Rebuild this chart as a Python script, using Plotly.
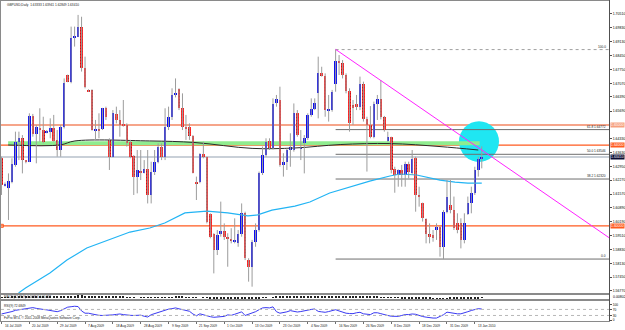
import plotly.graph_objects as go

# ---------------- data ----------------
bars = list(range(139))
open_p = [1.6335,1.6202,1.6186,1.6219,1.6302,1.6417,1.6437,1.6323,1.6318,1.6545,
          1.6455,1.6486,1.6475,1.6464,1.6467,1.6483,1.6426,1.6376,1.6492,1.6748,
          1.6715,1.6935,1.6938,1.6988,1.6781,1.6674,1.6674,1.6475,1.6481,1.6478,
          1.6583,1.6426,1.6343,1.6555,1.6525,1.6503,1.6500,1.6417,1.6348,1.6244,
          1.6269,1.6264,1.6280,1.6153,1.6269,1.6318,1.6393,1.6343,1.6488,1.6541,
          1.6649,1.6677,1.6583,1.6492,1.6488,1.6445,1.6219,1.6216,1.6356,1.6340,
          1.6059,1.5960,1.5880,1.5960,1.5976,1.5946,1.5936,1.5920,1.5913,1.5960,
          1.6062,1.5830,1.5794,1.5921,1.5979,1.6264,1.6351,1.6422,1.6384,1.6611,
          1.6624,1.6302,1.6318,1.6376,1.6376,1.6558,1.6379,1.6409,1.6434,1.6550,
          1.6579,1.6657,1.6756,1.6745,1.6574,1.6574,1.6703,1.6819,1.6809,1.6746,
          1.6669,1.6599,1.6602,1.6588,1.6703,1.6528,1.6500,1.6439,1.6602,1.6627,
          1.6538,1.6422,1.6439,1.6280,1.6252,1.6277,1.6252,1.6307,1.6260,1.6335,
          1.6153,1.6111,1.6032,1.5960,1.5955,1.5979,1.5996,1.5896,1.6070,1.6103,
          1.6078,1.6012,1.6012,1.5930,1.6059,1.6111,1.6161,1.6277,1.63333]
high_p = [1.6343,1.6215,1.6260,1.6335,1.6467,1.6467,1.6450,1.6326,1.6558,1.6555,
          1.6500,1.6583,1.6541,1.6475,1.6533,1.6550,1.6475,1.6500,1.6731,1.6750,
          1.6988,1.6988,1.7046,1.7037,1.6839,1.6677,1.6677,1.6525,1.6558,1.6585,
          1.6591,1.6434,1.6574,1.6591,1.6574,1.6624,1.6508,1.6426,1.6351,1.6376,
          1.6376,1.6326,1.6376,1.6318,1.6376,1.6409,1.6409,1.6583,1.6591,1.6682,
          1.6731,1.6682,1.6657,1.6550,1.6508,1.6450,1.6244,1.6360,1.6417,1.6343,
          1.6062,1.5963,1.5979,1.6120,1.6012,1.5963,1.5988,1.6037,1.5979,1.6111,
          1.6070,1.5839,1.5930,1.6012,1.6269,1.6393,1.6434,1.6434,1.6632,1.6649,
          1.6690,1.6360,1.6384,1.6459,1.6607,1.6574,1.6475,1.6450,1.6558,1.6632,
          1.6632,1.6839,1.6789,1.6756,1.6649,1.6674,1.6875,1.6847,1.6822,1.6756,
          1.6682,1.6624,1.6649,1.6740,1.6715,1.6541,1.6594,1.6616,1.6649,1.6723,
          1.6545,1.6467,1.6442,1.6293,1.6280,1.6302,1.6318,1.6318,1.6376,1.6343,
          1.6194,1.6115,1.6037,1.6012,1.5979,1.6012,1.5999,1.6078,1.6227,1.6227,
          1.6145,1.6062,1.6037,1.6062,1.6145,1.6194,1.6293,1.6343,1.63941]
low_p = [1.6153,1.6195,1.6029,1.6211,1.6293,1.6326,1.6260,1.6310,1.6316,1.6442,
         1.6310,1.6417,1.6409,1.6459,1.6434,1.6417,1.6343,1.6343,1.6483,1.6712,
         1.6707,1.6889,1.6936,1.6765,1.6682,1.6664,1.6472,1.6426,1.6434,1.6475,
         1.6525,1.6277,1.6340,1.6508,1.6442,1.6492,1.6393,1.6335,1.6153,1.6161,
         1.6227,1.6260,1.6111,1.6111,1.6252,1.6310,1.6326,1.6326,1.6475,1.6525,
         1.6637,1.6574,1.6475,1.6426,1.6426,1.6260,1.6128,1.6211,1.6335,1.6012,
         1.5938,1.5764,1.5855,1.5946,1.5930,1.5797,1.5913,1.5913,1.5896,1.5946,
         1.5830,1.5723,1.5698,1.5896,1.5971,1.6252,1.6343,1.6376,1.6379,1.6591,
         1.6293,1.6244,1.6277,1.6293,1.6368,1.6442,1.6326,1.6260,1.6426,1.6541,
         1.6574,1.6533,1.6740,1.6541,1.6517,1.6566,1.6665,1.6748,1.6731,1.6657,
         1.6467,1.6500,1.6574,1.6574,1.6517,1.6269,1.6434,1.6434,1.6525,1.6528,
         1.6467,1.6417,1.6260,1.6164,1.6194,1.6194,1.6194,1.6235,1.6252,1.6070,
         1.6095,1.6021,1.5913,1.5913,1.5921,1.5930,1.5847,1.5835,1.6062,1.6062,
         1.5979,1.5963,1.5888,1.5913,1.6054,1.6062,1.6153,1.6244,1.62849]
close_p = [1.6202,1.6208,1.6224,1.6307,1.6417,1.6437,1.6326,1.6318,1.6545,1.6455,
           1.6488,1.6480,1.6417,1.6469,1.6483,1.6422,1.6376,1.6492,1.6710,1.6715,
           1.6930,1.6941,1.6988,1.6781,1.6690,1.6667,1.6475,1.6481,1.6475,1.6583,
           1.6541,1.6343,1.6558,1.6525,1.6500,1.6497,1.6409,1.6343,1.6244,1.6277,
           1.6264,1.6280,1.6153,1.6269,1.6318,1.6393,1.6343,1.6488,1.6541,1.6649,
           1.6657,1.6583,1.6488,1.6485,1.6445,1.6264,1.6211,1.6356,1.6340,1.6021,
           1.5946,1.5880,1.5955,1.5976,1.5946,1.5936,1.5926,1.5925,1.5960,1.6062,
           1.5839,1.5794,1.5921,1.5979,1.6264,1.6351,1.6417,1.6384,1.6604,1.6627,
           1.6302,1.6318,1.6376,1.6393,1.6558,1.6450,1.6393,1.6434,1.6550,1.6579,
           1.6607,1.6756,1.6745,1.6574,1.6580,1.6665,1.6819,1.6809,1.6746,1.6669,
           1.6508,1.6583,1.6588,1.6703,1.6528,1.6500,1.6439,1.6602,1.6627,1.6538,
           1.6475,1.6442,1.6277,1.6252,1.6277,1.6252,1.6307,1.6265,1.6330,1.6153,
           1.6145,1.6037,1.5960,1.5946,1.5938,1.5996,1.5896,1.6070,1.6141,1.6078,
           1.5988,1.5979,1.5930,1.6016,1.6111,1.6164,1.6277,1.6330,1.63410]

rsi_vals = [40,44,50,56,64,68,70,74,80,82,
            77,72,70,67,64,58,55,62,75,85,
            88,91,89,60,45,45,40,35,31,30,
            30,30,34,37,40,36,32,31,30,31,
            32,25,20,35,43,48,55,67,72,75,
            80,74,68,64,58,40,28,41,35,24,
            22,18,19,21,24,34,31,38,45,54,
            30,38,48,55,68,80,82,80,87,55,
            45,49,54,62,58,53,56,62,66,70,
            73,57,54,51,56,62,68,60,52,45,
            43,42,48,51,41,38,36,48,48,42,
            38,30,25,23,24,30,36,36,40,38,
            28,23,19,14,13,13,22,35,52,48,
            45,41,41,46,55,63,70,75,72.7]
rsi_levels = [70, 30]

macd_vals = [0.0020,0.0022,0.0025,0.0030,0.0035,0.0040,0.0042,0.0043,0.0050,0.0055,0.0058,
             0.0058,0.0057,0.0055,0.0053,0.0050,0.0045,0.0046,
             0.0060,0.0072,0.0090,0.0102,0.0112,0.0110,0.0104,0.0096,0.0082,0.0072,0.0064,0.0060,
             0.0055,0.0046,0.0044,0.0040,0.0036,0.0032,0.0026,0.0018,0.0008,0.0000,-0.0006,-0.0010,
             -0.0018,-0.0016,-0.0012,-0.0006,-0.0004,0.0004,0.0010,0.0020,0.0028,0.0030,0.0028,0.0024,0.0020,0.0010,
             -0.0002,0.0000,-0.0002,-0.0020,-0.0036,-0.0052,-0.0060,-0.0066,-0.0070,-0.0074,-0.0076,-0.0078,-0.0076,-0.0068,-0.0074,-0.0080,-0.0076,-0.0068,
             -0.0046,-0.0026,-0.0010,0.0000,0.0018,0.0032,0.0030,0.0030,0.0030,0.0032,0.0045,0.0048,0.0046,0.0048,0.0056,0.0064,0.0072,
             0.0085,0.0094,0.0092,0.0090,0.0092,0.0102,0.0106,0.0104,0.0098,0.0084,0.0074,0.0066,0.0066,
             0.0056,0.0046,0.0036,0.0034,0.0032,0.0026,0.0018,0.0008,-0.0006,-0.0018,-0.0026,-0.0032,-0.0034,-0.0038,-0.0038,-0.0052,-0.0064,-0.0078,-0.0092,
             -0.0104,-0.0112,-0.0116,-0.0124,-0.0116,-0.0108,-0.0102,-0.0102,-0.0098,-0.0096,-0.0090,-0.0080,-0.0066,-0.0050,-0.0036,-0.0024]

ma_blue_bar = [4.9, 6.9, 13.9, 18.8, 24.5, 31.1, 36.9, 42.6, 46.9, 52.7, 59.0, 65.0, 70.8,
               73.6, 77.7, 84.3, 88.6, 94.3, 100.1, 105.8, 111.6, 114.5, 119.3, 126.0, 130.3, 134.0, 138.0]
ma_blue_val = [1.5667, 1.5692, 1.5766, 1.5830, 1.5890, 1.5930, 1.5969, 1.5989, 1.6014, 1.6064, 1.6073,
               1.6064, 1.6049, 1.6054, 1.6078, 1.6098, 1.6118, 1.6163, 1.6193, 1.6222, 1.6247, 1.6257,
               1.6252, 1.6227, 1.6217, 1.6212, 1.6212]

ma_dark_bar = [1.9, 16.8, 21.1, 42.5, 55.6, 72.0, 84.3, 97.3, 111.6, 126.0, 137.0]
ma_dark_val = [1.6401, 1.6401, 1.6421, 1.6421, 1.6413, 1.6384, 1.6386, 1.6403, 1.6408, 1.6393, 1.6376]

trend_bar = [96, 175]
trend_val = [1.6875, 1.5936]

fib_start_bar = 96
fib_levels = ["0.0", "38.2", "50.0", "61.8", "100.0"]
fib_prices = [1.58351, 1.62320, 1.63546, 1.64772, 1.68741]

green_zone_bar = [1.9, 137.4]
green_zone_val = [1.6400, 1.6420]

circle_center_bar = 137.2
circle_center_val = 1.6418

hline_prices = [1.6500, 1.6400, 1.6341, 1.6000]

price_ticks = [1.70510, 1.69830, 1.69130, 1.68450, 1.67750, 1.67070, 1.66390, 1.65690,
               1.64330, 1.63630, 1.62950, 1.62270, 1.61570, 1.60890, 1.60190, 1.59510, 1.58830,
               1.58130, 1.57450, 1.56770]

date_tick_bars = [0, 8, 16, 24, 32, 40, 48, 56, 64, 72, 80, 88, 96, 104, 112, 120, 128, 136]
date_tick_labels = ["16 Jul 2009", "20 Jul 2009", "29 Jul 2009", "7 Aug 2009", "18 Aug 2009",
                    "28 Aug 2009", "9 Sep 2009", "21 Sep 2009", "1 Oct 2009", "13 Oct 2009",
                    "23 Oct 2009", "4 Nov 2009", "16 Nov 2009", "26 Nov 2009", "8 Dec 2009",
                    "18 Dec 2009", "31 Dec 2009", "13 Jan 2010"]

# ---------------- layout geometry (pixels) ----------------
W, H = 625, 330
ML, MR, MT, MB = 1, 16, 2, 9
PW, PH = W - ML - MR, H - MT - MB


def px_x(px):
    return (px - ML) / PW


def px_y(py):
    return (H - MB - py) / PH


FONT = "Liberation Sans"
fig = go.Figure()

# moving averages
fig.add_trace(go.Scatter(x=ma_blue_bar, y=ma_blue_val, mode="lines",
                         line=dict(color="#22b4f4", width=1.2), hoverinfo="skip"))
fig.add_trace(go.Scatter(x=ma_dark_bar, y=ma_dark_val, mode="lines", line_shape="spline",
                         line=dict(color="#2a2a2a", width=1), hoverinfo="skip"))

# wicks
wx, wy = [], []
for i, h, l in zip(bars, high_p, low_p):
    wx += [i, i, None]
    wy += [l, h, None]
fig.add_trace(go.Scatter(x=wx, y=wy, mode="lines", line=dict(color="#9c9c9c", width=1),
                         hoverinfo="skip"))

# bodies
ux, ub, uh, dx, db, dh = [], [], [], [], [], []
for i, o, c in zip(bars, open_p, close_p):
    if c >= o:
        ux.append(i); ub.append(o); uh.append(c - o)
    else:
        dx.append(i); db.append(c); dh.append(o - c)
fig.add_trace(go.Bar(x=ux, y=uh, base=ub, width=0.74,
                     marker=dict(color="#0c0cf2", line=dict(width=0)), hoverinfo="skip"))
fig.add_trace(go.Bar(x=dx, y=dh, base=db, width=0.74,
                     marker=dict(color="#ee1414", line=dict(width=0),
                                 pattern=dict(shape=".", fgcolor="#7a0000", bgcolor="#ff2a2a",
                                              size=3, solidity=0.25)),
                     hoverinfo="skip"))

# trend line
fig.add_trace(go.Scatter(x=trend_bar, y=trend_val, mode="lines",
                         line=dict(color="#ff22ff", width=1), hoverinfo="skip"))

# anchor square of the 1.6000 line
fig.add_trace(go.Scatter(x=[0.1], y=[hline_prices[3]], mode="markers",
                         marker=dict(symbol="square-open", size=3, color="#ff5a1f",
                                     line=dict(width=1, color="#ff5a1f")), hoverinfo="skip"))

# MACD pane
fig.add_trace(go.Bar(x=bars, y=macd_vals, width=0.3, yaxis="y2",
                     marker=dict(color="#202020", line=dict(width=0)), hoverinfo="skip"))

# RSI pane
fig.add_trace(go.Scatter(x=bars, y=rsi_vals, mode="lines", yaxis="y3",
                         line=dict(color="#3a3af2", width=1), hoverinfo="skip"))

shapes = []
# cyan circle
shapes.append(dict(type="circle", xref="x", yref="y", layer="below",
                   x0=circle_center_bar - 5.75, x1=circle_center_bar + 5.75,
                   y0=circle_center_val - 0.0101, y1=circle_center_val + 0.0101,
                   fillcolor="#1fe6f2", line=dict(width=0)))
# green zone
shapes.append(dict(type="rect", xref="x", yref="y", layer="below",
                   x0=green_zone_bar[0], x1=green_zone_bar[1],
                   y0=green_zone_val[0], y1=green_zone_val[1],
                   fillcolor="#8fec8f", line=dict(width=0)))
# horizontal lines
hstyles = [("#f6a58a", 2), ("#ff5a1f", 1.2), ("#c9d0d8", 2), ("#ff5a1f", 1.2)]
for p, (col, wdt) in zip(hline_prices, hstyles):
    shapes.append(dict(type="line", xref="paper", yref="y", layer="below",
                       x0=0, x1=1, y0=p, y1=p, line=dict(color=col, width=wdt)))
# fibonacci lines
for lvl, p in zip(fib_levels, fib_prices):
    dash = "dot" if lvl == "100.0" else "solid"
    col = "#a0a0a0" if lvl == "100.0" else "#6e6e6e"
    shapes.append(dict(type="line", xref="x", yref="y", layer="below",
                       x0=fib_start_bar, x1=175, y0=p, y1=p, line=dict(color=col, width=1, dash=dash)))
# RSI levels
for lv in rsi_levels:
    shapes.append(dict(type="line", xref="paper", yref="y3", x0=0, x1=1, y0=lv, y1=lv,
                       line=dict(color="#b8b8b8", width=1, dash="dot")))
# frame and pane separators
for py in [0.5, 293.5, 294.5, 299.5, 300.5, 321.5]:
    shapes.append(dict(type="line", xref="paper", yref="paper", x0=px_x(0), x1=px_x(609.5),
                       y0=px_y(py), y1=px_y(py), line=dict(color="#8a8a8a", width=1)))
shapes.append(dict(type="line", xref="paper", yref="paper", x0=px_x(0.5), x1=px_x(0.5),
                   y0=px_y(0), y1=px_y(321.5), line=dict(color="#8a8a8a", width=1)))
shapes.append(dict(type="line", xref="paper", yref="paper", x0=px_x(609.5), x1=px_x(609.5),
                   y0=px_y(0), y1=px_y(321.5), line=dict(color="#505050", width=1)))

ann = []
small = dict(family=FONT, size=3.2, color="#1a1a1a")
ann.append(dict(xref="paper", yref="paper", x=px_x(5), y=px_y(5), xanchor="left", yanchor="middle",
                text="GBPUSD,Daily  1.63333 1.63941 1.62849 1.63410", showarrow=False, font=small))
ann.append(dict(xref="paper", yref="paper", x=px_x(2), y=px_y(296.8), xanchor="left", yanchor="middle",
                text="MACD(12,26,9) 0.00314 0.00452", showarrow=False, font=small))
ann.append(dict(xref="paper", yref="paper", x=px_x(2), y=px_y(305.5), xanchor="left", yanchor="middle",
                text="RSI(9) 72.6849", showarrow=False, font=small))
ann.append(dict(xref="paper", yref="paper", x=px_x(2), y=px_y(318), xanchor="left", yanchor="middle",
                text="FxPro MT4, \u00a9 2001-2008 MetaQuotes Software Corp.", showarrow=False, font=small))
ann.append(dict(xref="paper", yref="paper", x=px_x(611), y=px_y(297), xanchor="left", yanchor="middle",
                text="0.00802", showarrow=False, font=dict(family=FONT, size=3.5, color="#000000")))
# fib labels
for lvl, p in zip(fib_levels, fib_prices):
    txt = lvl if lvl in ("0.0", "100.0") else f"{lvl} {p:.5f}"
    ann.append(dict(xref="paper", yref="y", x=px_x(607), y=p, xanchor="right", yanchor="bottom",
                    text=txt, showarrow=False, font=small, borderpad=0))
# highlighted price labels on the axis
hl_bg = ["#f6a07e", "#ff5a1f", "#0a0a30", "#ff5a1f"]
for p, bg in zip(hline_prices, hl_bg):
    ann.append(dict(xref="paper", yref="y", x=px_x(610), y=p, xanchor="left", yanchor="middle",
                    text=f"{p:.5f}", showarrow=False, bgcolor=bg, borderpad=0,
                    font=dict(family=FONT, size=3.5, color="#ffffff")))
# date labels
for b, t in zip(date_tick_bars, date_tick_labels):
    ann.append(dict(xref="x", yref="paper", x=b, y=px_y(326), xanchor="left", yanchor="middle",
                    xshift=1, text=t, showarrow=False, font=small))

fig.update_layout(
    width=W, height=H, margin=dict(l=ML, r=MR, t=MT, b=MB),
    paper_bgcolor="white", plot_bgcolor="white", showlegend=False,
    barmode="overlay", bargap=0,
    xaxis=dict(range=[-0.15, 174.56], domain=[0, 1], anchor="y3", showgrid=False, zeroline=False,
               tickvals=date_tick_bars, ticks="outside", ticklen=2, tickcolor="#707070",
               showticklabels=False, showline=False, fixedrange=True),
    yaxis=dict(domain=[px_y(293), 1], range=[1.56667, 1.71101], side="right", anchor="x",
               tickvals=price_ticks, ticktext=[f"{v:.5f}" for v in price_ticks],
               tickfont=dict(family=FONT, size=3.5, color="#000000"), ticks="outside", ticklen=2,
               tickcolor="#505050", showgrid=False, zeroline=False, showline=False),
    yaxis2=dict(domain=[px_y(299.5), px_y(294.5)], range=[-0.0135, 0.0135], side="right", anchor="x",
                showticklabels=False, showgrid=False, zeroline=False, ticks=""),
    yaxis3=dict(domain=[px_y(321), px_y(300.5)], range=[-6.45, 129], side="right", anchor="x",
                tickvals=[0, 30, 70, 100], ticktext=["0", "30", "70", "100"],
                tickfont=dict(family=FONT, size=3.2, color="#000000"), ticks="outside", ticklen=2,
                tickcolor="#505050", showgrid=False, zeroline=False),
    shapes=shapes, annotations=ann,
)

fig.write_html("out.html")
